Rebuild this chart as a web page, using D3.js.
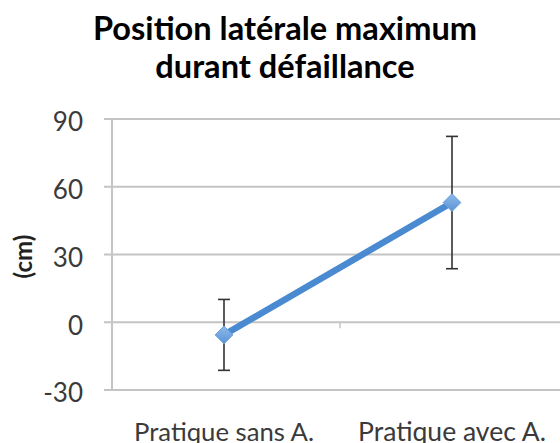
<!DOCTYPE html>
<html>
<head>
<meta charset="utf-8">
<script src="https://cdn.jsdelivr.net/npm/d3@7/dist/d3.min.js"></script>
<style>
  html, body { margin: 0; padding: 0; background: #fff; }
  svg { display: block; }
  text { font-family: Lato, "Open Sans", sans-serif; }
</style>
</head>
<body>
<svg id="chart" width="560" height="443"></svg>
<script>
// Chart data
const categories = ["Pratique sans A.", "Pratique avec A."];
const means = [-5.6, 53.0];
const errors = [15.7, 29.3];
const yTicks = [-30, 0, 30, 60, 90];
const titleLines = ["Position latérale maximum", "durant défaillance"];
const yLabel = "(cm)";

const svg = d3.select("#chart");
const W = 560, H = 443;

const x = d3.scaleBand().domain(categories).range([112, 568]);
const y = d3.scaleLinear().domain([-30, 90]).range([390, 119]);

// Shrink or grow a text element's font size until it spans the given width
function fitWidth(sel, target) {
  sel.each(function () {
    const el = this;
    let fs = parseFloat(el.getAttribute("font-size"));
    for (let i = 0; i < 3; i++) {
      const w = el.getComputedTextLength();
      fs = fs * target / w;
      el.setAttribute("font-size", fs);
    }
  });
}

// Horizontal gridlines
svg.append("g").selectAll("line").data(yTicks).join("line")
  .attr("x1", 104).attr("x2", W)
  .attr("y1", d => y(d)).attr("y2", d => y(d))
  .attr("stroke", "#c4c4c4").attr("stroke-width", 2);

// Vertical value axis line
svg.append("line")
  .attr("x1", 112).attr("x2", 112)
  .attr("y1", y(90)).attr("y2", y(-30))
  .attr("stroke", "#c4c4c4").attr("stroke-width", 2);

// Category tick mark on the zero line
svg.append("g").selectAll("line").data([categories[1]]).join("line")
  .attr("x1", d => x(d)).attr("x2", d => x(d))
  .attr("y1", y(0)).attr("y2", y(0) + 6)
  .attr("stroke", "#c4c4c4").attr("stroke-width", 1.5);

// Value tick labels
svg.append("g").selectAll("text").data(yTicks).join("text")
  .attr("x", 83).attr("y", d => y(d) + 3)
  .attr("dy", "0.36em")
  .attr("text-anchor", "end")
  .attr("font-size", 26)
  .attr("fill", "#3a3a3a")
  .text(d => d);

// Category labels
const catLabels = svg.append("g").selectAll("text").data(categories).join("text")
  .attr("x", d => x(d) + x.bandwidth() / 2 - 2)
  .attr("y", 441)
  .attr("text-anchor", "middle")
  .attr("font-size", 26)
  .attr("fill", "#3a3a3a")
  .text(d => d);
fitWidth(catLabels.filter((d, i) => i === 0), 180);
fitWidth(catLabels.filter((d, i) => i === 1), 188);

// Title
const title = svg.append("g").selectAll("text").data(titleLines).join("text")
  .attr("x", 285)
  .attr("y", (d, i) => 40 + i * 38)
  .attr("text-anchor", "middle")
  .attr("font-size", 28)
  .attr("font-weight", "bold")
  .attr("fill", "#000")
  .text(d => d);
fitWidth(title.filter((d, i) => i === 0), 384);
title.filter((d, i) => i === 1)
  .attr("font-size", title.filter((d, i) => i === 0).attr("font-size"));

// Axis title
svg.append("text")
  .attr("transform", `translate(32, ${(y(30) + y(60)) / 2 + 36}) rotate(-90)`)
  .attr("text-anchor", "middle")
  .attr("font-size", 24)
  .attr("font-weight", "bold")
  .attr("fill", "#222")
  .text(yLabel);

const pts = categories.map((c, i) => ({ c, m: means[i], e: errors[i] }));
const cx = d => x(d.c) + x.bandwidth() / 2 - 2;

// Error bars
const eb = svg.append("g").attr("stroke", "#333").attr("stroke-width", 1.6);
eb.selectAll("line.v").data(pts).join("line").attr("class", "v")
  .attr("x1", cx).attr("x2", cx)
  .attr("y1", d => y(d.m + d.e)).attr("y2", d => y(d.m - d.e));
eb.selectAll("line.t").data(pts).join("line").attr("class", "t")
  .attr("x1", d => cx(d) - 6).attr("x2", d => cx(d) + 6)
  .attr("y1", d => y(d.m + d.e)).attr("y2", d => y(d.m + d.e));
eb.selectAll("line.b").data(pts).join("line").attr("class", "b")
  .attr("x1", d => cx(d) - 6).attr("x2", d => cx(d) + 6)
  .attr("y1", d => y(d.m - d.e)).attr("y2", d => y(d.m - d.e));

// Series line
svg.append("path")
  .datum(pts)
  .attr("d", d3.line().x(cx).y(d => y(d.m)))
  .attr("fill", "none")
  .attr("stroke", "#4a8ad0")
  .attr("stroke-width", 6.5);

// Diamond markers
const defs = svg.append("defs");
const grad = defs.append("linearGradient").attr("id", "mk")
  .attr("x1", 0).attr("y1", 0).attr("x2", 0).attr("y2", 1);
grad.append("stop").attr("offset", "0%").attr("stop-color", "#8fbaea");
grad.append("stop").attr("offset", "100%").attr("stop-color", "#5a93d6");

svg.append("g").selectAll("path").data(pts).join("path")
  .attr("transform", d => `translate(${cx(d)},${y(d.m)})`)
  .attr("d", d3.symbol(d3.symbolDiamond2, 200)())
  .attr("fill", "url(#mk)")
  .attr("stroke", "#6a9fdc")
  .attr("stroke-width", 1);
</script>
</body>
</html>
